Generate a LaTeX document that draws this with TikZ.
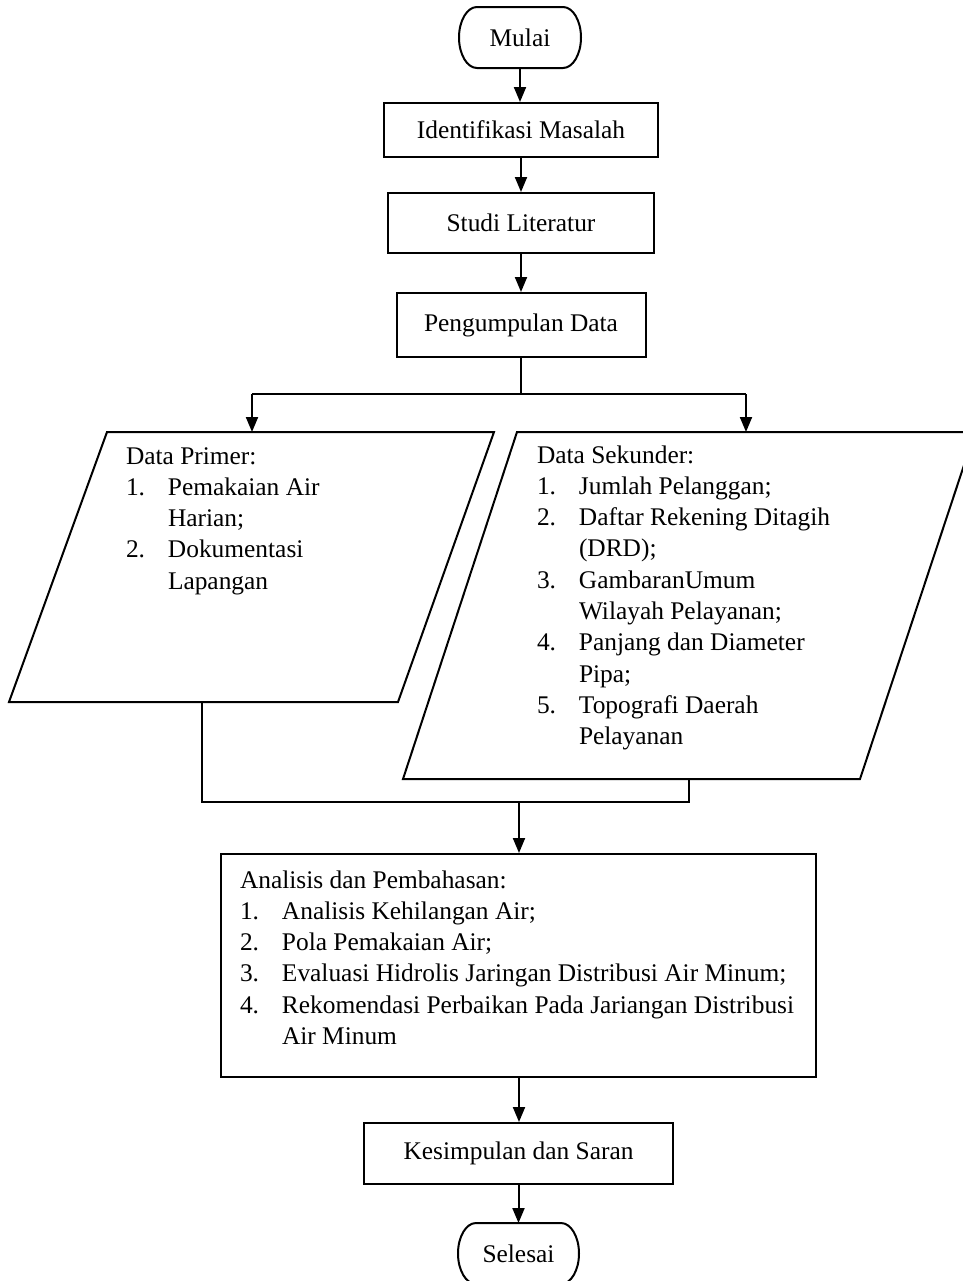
\documentclass[tikz,border=0pt]{standalone}
\usepackage{fontspec}
\setmainfont{Liberation Serif}
\usetikzlibrary{arrows.meta,calc}
\newcommand{\pxu}{0.5pt}
\newcommand{\itm}[2]{\hbox{\makebox[21pt][l]{#1}#2}}
\newcommand{\cnt}[1]{\hbox{\hspace*{21pt}#1}}
\newcommand{\lst}[1]{\vtop{\baselineskip=15.65pt\lineskiplimit=-20pt\lineskip=0pt #1}}
\begin{document}
\begin{tikzpicture}[x=0.5pt,y=-0.5pt,
  font=\fontsize{12.7pt}{15.65pt}\selectfont,
  line width=1pt,
  box/.style={draw, rectangle, inner sep=0pt, align=center},
  term/.style={inner sep=0pt, outer sep=0pt},
  arr/.style={-{Triangle[length=7.5pt,width=6pt]}},
  lbl/.style={anchor=base west, inner sep=0pt}]
\useasboundingbox (0,0) rectangle (963,1281);

% terminators and boxes
\node[term, minimum width=122*\pxu, minimum height=61*\pxu] (mulai) at (520,37.5) {Mulai};
\draw (mulai.north) -- ($(mulai.north east)+(-18,0)$)
  arc[start angle=90, end angle=-90, x radius=9pt, y radius=15.25pt]
  -- ($(mulai.south west)+(18,0)$)
  arc[start angle=270, end angle=90, x radius=9pt, y radius=15.25pt] -- cycle;

\node[box, minimum width=274*\pxu, minimum height=54*\pxu] (ident) at (521,130) {Identifikasi Masalah};
\node[box, minimum width=266*\pxu, minimum height=60*\pxu] (studi) at (521,223) {Studi Literatur};
\node[box, minimum width=249*\pxu, minimum height=64*\pxu] (kumpul) at (521,325) {Pengumpulan Data};

% parallelograms
\coordinate (lTL) at (107,432); \coordinate (lTR) at (494,432);
\coordinate (lBR) at (398,702); \coordinate (lBL) at (9,702);
\draw (lTL) -- (lTR) -- (lBR) -- (lBL) -- cycle;
\coordinate (rTL) at (517,432); \coordinate (rTR) at (975,432);
\coordinate (rBR) at (860,779); \coordinate (rBL) at (403,779);
\draw (rTL) -- (rTR) -- (rBR) -- (rBL) -- cycle;

\node[lbl] (prim) at (125,464) {\lst{%
  \hbox{Data Primer:}
  \itm{1.}{Pemakaian Air}
  \cnt{Harian;}
  \itm{2.}{Dokumentasi}
  \cnt{Lapangan}}};

\node[lbl] (sek) at (536,463) {\lst{%
  \hbox{Data Sekunder:}
  \itm{1.}{Jumlah Pelanggan;}
  \itm{2.}{Daftar Rekening Ditagih}
  \cnt{(DRD);}
  \itm{3.}{GambaranUmum}
  \cnt{Wilayah Pelayanan;}
  \itm{4.}{Panjang dan Diameter}
  \cnt{Pipa;}
  \itm{5.}{Topografi Daerah}
  \cnt{Pelayanan}}};

\node[box, minimum width=595*\pxu, minimum height=223*\pxu] (ana) at (518.5,965.5) {};
\node[lbl] (anatxt) at (239,888) {\lst{%
  \hbox{Analisis dan Pembahasan:}
  \itm{1.}{Analisis Kehilangan Air;}
  \itm{2.}{Pola Pemakaian Air;}
  \itm{3.}{Evaluasi Hidrolis Jaringan Distribusi Air Minum;}
  \itm{4.}{Rekomendasi Perbaikan Pada Jariangan Distribusi}
  \cnt{Air Minum}}};

\node[box, minimum width=309*\pxu, minimum height=61*\pxu] (kes) at (518.5,1153.5) {Kesimpulan dan Saran};

\node[term, minimum width=121*\pxu, minimum height=61*\pxu] (selesai) at (518.5,1253.5) {Selesai};
\draw (selesai.north) -- ($(selesai.north east)+(-18,0)$)
  arc[start angle=90, end angle=-90, x radius=9pt, y radius=15.25pt]
  -- ($(selesai.south west)+(18,0)$)
  arc[start angle=270, end angle=90, x radius=9pt, y radius=15.25pt] -- cycle;

% connectors
\draw[arr] (mulai.south) -- (mulai.south |- ident.north);
\draw[arr] (ident.south) -- (ident.south |- studi.north);
\draw[arr] (studi.south) -- (studi.south |- kumpul.north);

\coordinate (sl) at (252,394);
\coordinate (sr) at (746,394);
\coordinate (pl) at (252,432);
\coordinate (pr) at (746,432);
\draw (kumpul.south) -- (kumpul.south |- sl);
\draw (sl) -- (sr);
\draw[arr] (sl) -- (pl);
\draw[arr] (sr) -- (pr);

\coordinate (jl) at (202,702);
\coordinate (jr) at (689,779);
\coordinate (jlb) at (202,802);
\coordinate (jrb) at (689,802);
\coordinate (jm) at (519,802);
\draw (jl) -- (jlb) -- (jrb) -- (jr);
\draw[arr] (jm) -- (jm |- ana.north);

\draw[arr] (ana.south -| jm) -- (jm |- kes.north);
\draw[arr] (kes.south) -- (kes.south |- selesai.north);
\end{tikzpicture}
\end{document}
